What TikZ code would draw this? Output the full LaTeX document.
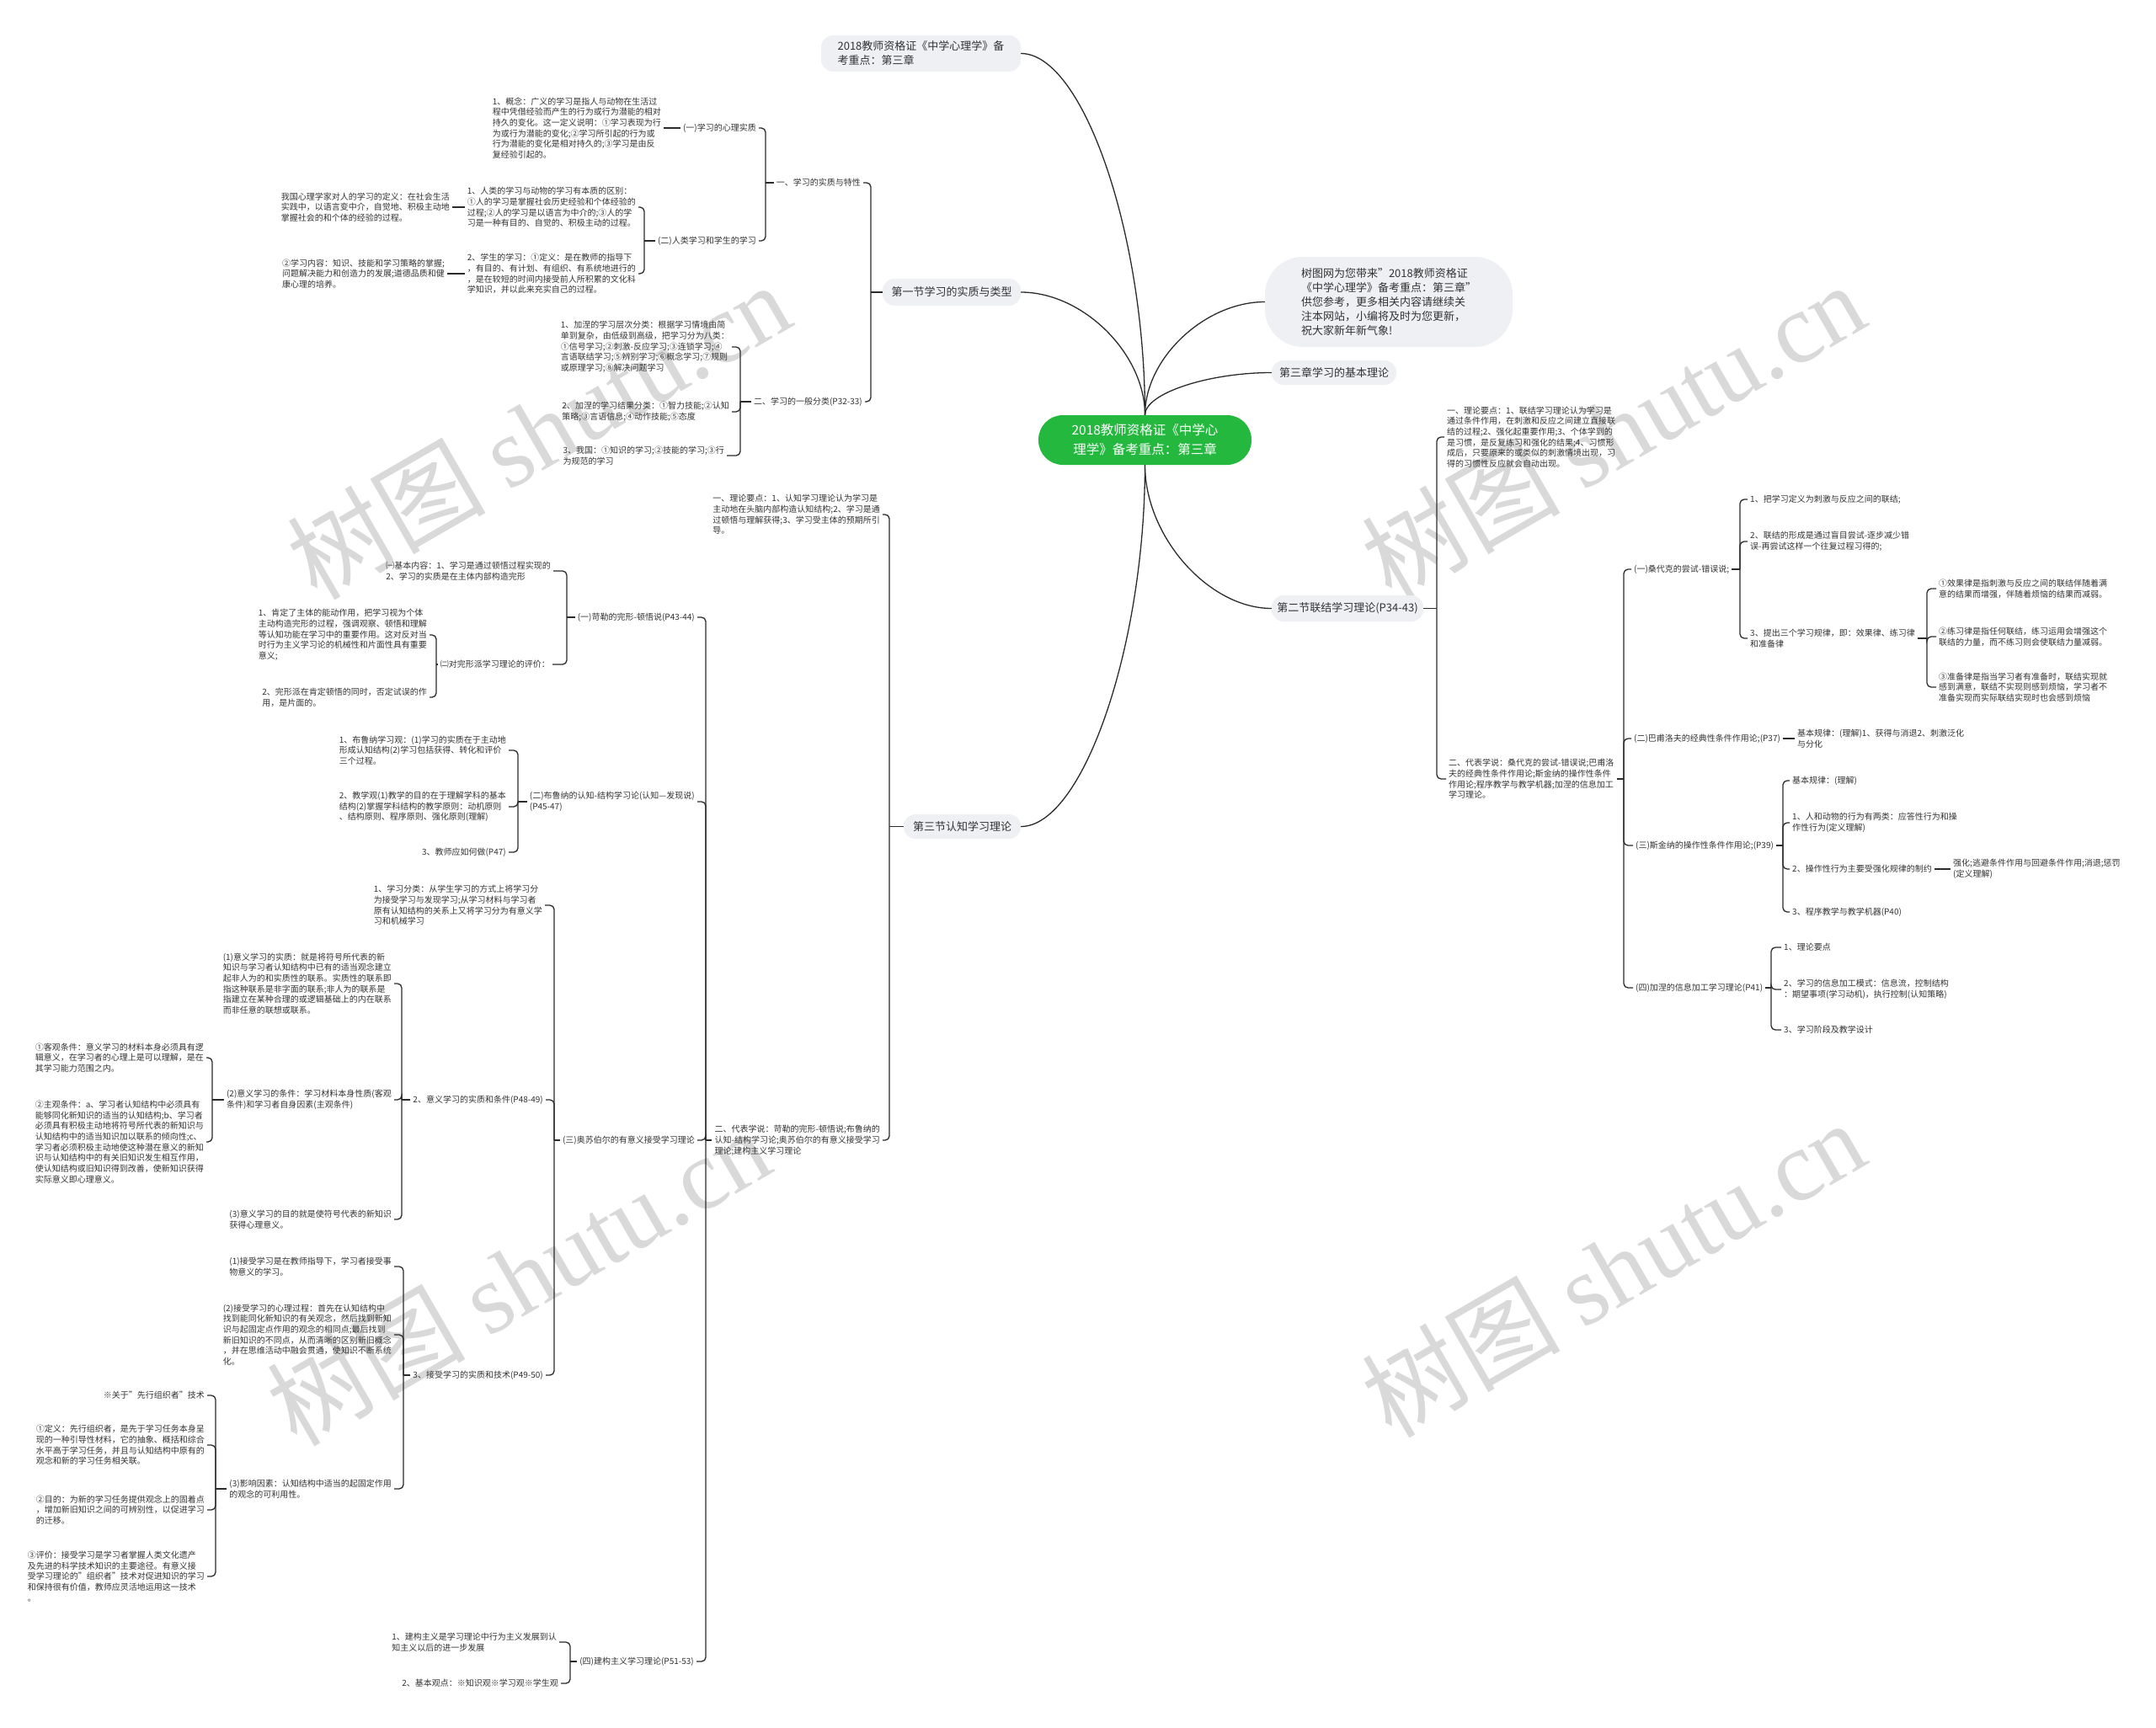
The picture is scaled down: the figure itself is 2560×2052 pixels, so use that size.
\documentclass[tikz,border=0pt]{standalone}
\usepackage{fontspec}
\setmainfont{Noto Sans CJK SC}
\newfontfamily\wmfont{Liberation Serif}
\definecolor{tcol}{HTML}{333333}
\definecolor{lcol}{HTML}{2B2B2B}
\definecolor{pfill}{HTML}{EEF0F4}
\definecolor{cgreen}{HTML}{25B83F}
\definecolor{wmcol}{HTML}{D9D9D9}
\newcommand\fsm{\fontsize{10}{12.7}\selectfont}
\newcommand\flg{\fontsize{13}{17}\selectfont}
\newcommand\fcn{\fontsize{15.5}{23}\selectfont}
\newcommand\fwm{\fontsize{118}{124}\selectfont}
\begin{document}
\begin{tikzpicture}[x=1pt,y=-1pt,
  tx/.style={inner xsep=3pt, inner ysep=1pt, align=left, font=\fsm, text=tcol},
  br/.style={draw=lcol, line width=1.3pt, rounded corners=5pt},
  mc/.style={draw=lcol, line width=1.3pt},
  pill/.style={fill=pfill, rounded corners=14pt, text=tcol, font=\flg, inner sep=0pt, align=left},
  wm/.style={text=wmcol, font=\fwm, rotate=30, inner sep=0pt, anchor=base west}]
\useasboundingbox (0,0) rectangle (2560,2052);
\fill[white] (0,0) rectangle (2560,2052);
% watermarks
\node[wm] (w1a) at (376,714.5) {树};
\node[wm] (w1b) at (478,655.5) {图};
\node[wm] (w1c) at (603,583.5) {\wmfont shutu.cn};
\node[wm] (w2a) at (352,1719.5) {树};
\node[wm] (w2b) at (454,1660.5) {图};
\node[wm] (w2c) at (579,1588.5) {\wmfont shutu.cn};
\node[wm] (w3a) at (1652,714.5) {树};
\node[wm] (w3b) at (1754,655.5) {图};
\node[wm] (w3c) at (1879,583.5) {\wmfont shutu.cn};
\node[wm] (w4a) at (1652,1709.5) {树};
\node[wm] (w4b) at (1754,1650.5) {图};
\node[wm] (w4c) at (1879,1578.5) {\wmfont shutu.cn};

% centre and level-1
\node[fill=cgreen, rounded corners=29pt, minimum width=253pt, minimum height=59pt, text=white, font=\fcn, align=center, inner sep=0pt] (C) at (1359.5,522.5) {2018教师资格证《中学心\\理学》备考重点：第三章};
\node[pill, minimum width=237pt, minimum height=43pt] (T1) at (1093.5,63.5) {2018教师资格证《中学心理学》备\\考重点：第三章};
\node[pill, minimum width=164pt, minimum height=32pt] (L1) at (1130,347) {第一节学习的实质与类型};
\node[pill, rounded corners=45pt, minimum width=294pt, minimum height=107pt] (AD) at (1649,358.5) {树图网为您带来"2018教师资格证\\《中学心理学》备考重点：第三章"\\供您参考，更多相关内容请继续关\\注本网站，小编将及时为您更新，\\祝大家新年新气象!};
\node[pill, minimum width=148pt, minimum height=29pt] (L3) at (1584,442.5) {第三章学习的基本理论};
\node[pill, minimum width=180pt, minimum height=31pt] (L2) at (1600,722.5) {第二节联结学习理论(P34-43)};
\node[pill, minimum width=139pt, minimum height=29pt] (L4) at (1142.5,981.5) {第三节认知学习理论};

\draw[mc] (C.north) .. controls (1359.5,278) and (1286,63.5) .. (T1.east);
\draw[mc] (C.north) .. controls (1359.5,420) and (1286,347) .. (L1.east);
\draw[mc] (C.north) .. controls (1359.5,425) and (1431,358.5) .. (AD.west);
\draw[mc] (C.north) .. controls (1359.5,467) and (1435,442.5) .. (L3.west);
\draw[mc] (C.south) .. controls (1359.5,637) and (1435,722.5) .. (L2.west);
\draw[mc] (C.south) .. controls (1359.5,766) and (1286,981.5) .. (L4.east);

% ---------- section 1 (top left)
\node[tx, anchor=east] (A) at (1025,217) {一、学习的实质与特性};
\node[tx, anchor=east] (B) at (1027,477) {二、学习的一般分类(P32-33)};
\node[tx, anchor=east] (A1) at (901,152) {(一)学习的心理实质};
\node[tx, anchor=east] (A2) at (901,286) {(二)人类学习和学生的学习};
\node[tx, anchor=east] (con) at (788,152) {1、概念：广义的学习是指人与动物在生活过\\程中凭借经验而产生的行为或行为潜能的相对\\持久的变化。这一定义说明：①学习表现为行\\为或行为潜能的变化;②学习所引起的行为或\\行为潜能的变化是相对持久的;③学习是由反\\复经验引起的。};
\node[tx, anchor=east] (hum) at (758,246) {1、人类的学习与动物的学习有本质的区别：\\①人的学习是掌握社会历史经验和个体经验的\\过程;②人的学习是以语言为中介的;③人的学\\习是一种有目的、自觉的、积极主动的过程。};
\node[tx, anchor=east] (stu) at (758,325) {2、学生的学习：①定义：是在教师的指导下\\，有目的、有计划、有组织、有系统地进行的\\，是在较短的时间内接受前人所积累的文化科\\学知识，并以此来充实自己的过程。};
\node[tx, anchor=east] (chn) at (537,246) {我国心理学家对人的学习的定义：在社会生活\\实践中，以语言变中介，自觉地、积极主动地\\掌握社会的和个体的经验的过程。};
\node[tx, anchor=east] (cnt) at (531,325) {②学习内容：知识、技能和学习策略的掌握;\\问题解决能力和创造力的发展;道德品质和健\\康心理的培养。};
\node[tx, anchor=east] (g1) at (869,412) {1、加涅的学习层次分类：根据学习情境由简\\单到复杂，由低级到高级，把学习分为八类：\\①信号学习;②刺激-反应学习;③连锁学习;④\\言语联结学习;⑤辨别学习;⑥概念学习;⑦规则\\或原理学习;⑧解决问题学习};
\node[tx, anchor=east] (g2) at (869,489) {2、加涅的学习结果分类：①智力技能;②认知\\策略;③言语信息;④动作技能;⑤态度};
\node[tx, anchor=east] (g3) at (863,541) {3、我国：①知识的学习;②技能的学习;③行\\为规范的学习};

\draw[br] (L1.west) -- (1034,347) coordinate (jL1);
\draw[br] (jL1) |- (A.east); \draw[br] (jL1) |- (B.east);
\draw[br] (A.west) -- (909,217) coordinate (jA);
\draw[br] (jA) |- (A1.east); \draw[br] (jA) |- (A2.east);
\draw[br] (A1.west) -- (con.east);
\draw[br] (A2.west) -- (765,286) coordinate (jA2);
\draw[br] (jA2) |- (hum.east); \draw[br] (jA2) |- (stu.east);
\draw[br] (hum.west) -- (chn.east);
\draw[br] (stu.west) -- (cnt.east);
\draw[br] (B.west) -- (879,477) coordinate (jB);
\draw[br] (jB) |- (g1.east); \draw[br] (jB) |- (g2.east); \draw[br] (jB) |- (g3.east);

% ---------- section 3 (left)
\node[tx, anchor=east] (cog) at (1048,611) {一、理论要点：1、认知学习理论认为学习是\\主动地在头脑内部构造认知结构;2、学习是通\\过顿悟与理解获得;3、学习受主体的预期所引\\导。};
\node[tx, anchor=east] (rep) at (1048,1354) {二、代表学说：苛勒的完形-顿悟说;布鲁纳的\\认知-结构学习论;奥苏伯尔的有意义接受学习\\理论;建构主义学习理论};
\node[tx, anchor=east] (koh) at (828,733) {(一)苛勒的完形-顿悟说(P43-44)};
\node[tx, anchor=east] (bru) at (828,952) {(二)布鲁纳的认知-结构学习论(认知—发现说)\\(P45-47)};
\node[tx, anchor=east] (aus) at (828,1354) {(三)奥苏伯尔的有意义接受学习理论};
\node[tx, anchor=east] (cst) at (827,1973) {(四)建构主义学习理论(P51-53)};
\node[tx, anchor=east] (bas) at (657,678) {㈠基本内容：1、学习是通过顿悟过程实现的\\2、学习的实质是在主体内部构造完形};
\node[tx, anchor=east] (evl) at (656,789) {㈡对完形派学习理论的评价：};
\node[tx, anchor=east] (e1) at (510,754) {1、肯定了主体的能动作用，把学习视为个体\\主动构造完形的过程，强调观察、顿悟和理解\\等认知功能在学习中的重要作用。这对反对当\\时行为主义学习论的机械性和片面性具有重要\\意义;};
\node[tx, anchor=east] (e2) at (510,828) {2、完形派在肯定顿悟的同时，否定试误的作\\用，是片面的。};
\node[tx, anchor=east] (b1) at (604,891) {1、布鲁纳学习观：(1)学习的实质在于主动地\\形成认知结构(2)学习包括获得、转化和评价\\三个过程。};
\node[tx, anchor=east] (b2) at (604,958) {2、教学观(1)教学的目的在于理解学科的基本\\结构(2)掌握学科结构的教学原则：动机原则\\、结构原则、程序原则、强化原则(理解)};
\node[tx, anchor=east] (b3) at (604,1012) {3、教师应如何做(P47)};
\node[tx, anchor=east] (a1) at (647,1075) {1、学习分类：从学生学习的方式上将学习分\\为接受学习与发现学习;从学习材料与学习者\\原有认知结构的关系上又将学习分为有意义学\\习和机械学习};
\node[tx, anchor=east] (a2) at (648,1306) {2、意义学习的实质和条件(P48-49)};
\node[tx, anchor=east] (a3) at (648,1633) {3、接受学习的实质和技术(P49-50)};
\node[tx, anchor=east] (a21) at (468,1168) {(1)意义学习的实质：就是将符号所代表的新\\知识与学习者认知结构中已有的适当观念建立\\起非人为的和实质性的联系。实质性的联系即\\指这种联系是非字面的联系;非人为的联系是\\指建立在某种合理的或逻辑基础上的内在联系\\而非任意的联想或联系。};
\node[tx, anchor=east] (a22) at (468,1306) {(2)意义学习的条件：学习材料本身性质(客观\\条件)和学习者自身因素(主观条件)};
\node[tx, anchor=east] (a23) at (468,1448) {(3)意义学习的目的就是使符号代表的新知识\\获得心理意义。};
\node[tx, anchor=east] (obj) at (245,1256) {①客观条件：意义学习的材料本身必须具有逻\\辑意义，在学习者的心理上是可以理解，是在\\其学习能力范围之内。};
\node[tx, anchor=east] (sbj) at (245,1356) {②主观条件：a、学习者认知结构中必须具有\\能够同化新知识的适当的认知结构;b、学习者\\必须具有积极主动地将符号所代表的新知识与\\认知结构中的适当知识加以联系的倾向性;c、\\学习者必须积极主动地使这种潜在意义的新知\\识与认知结构中的有关旧知识发生相互作用，\\使认知结构或旧知识得到改善，使新知识获得\\实际意义即心理意义。};
\node[tx, anchor=east] (a31) at (468,1504) {(1)接受学习是在教师指导下，学习者接受事\\物意义的学习。};
\node[tx, anchor=east] (a32) at (468,1585) {(2)接受学习的心理过程：首先在认知结构中\\找到能同化新知识的有关观念，然后找到新知\\识与起固定点作用的观念的相同点;最后找到\\新旧知识的不同点，从而清晰的区别新旧概念\\，并在思维活动中融会贯通，使知识不断系统\\化。};
\node[tx, anchor=east] (a33) at (468,1768) {(3)影响因素：认知结构中适当的起固定作用\\的观念的可利用性。};
\node[tx, anchor=east] (adv) at (246,1657) {※关于"先行组织者"技术};
\node[tx, anchor=east] (adv1) at (246,1716) {①定义：先行组织者，是先于学习任务本身呈\\现的一种引导性材料，它的抽象、概括和综合\\水平高于学习任务，并且与认知结构中原有的\\观念和新的学习任务相关联。};
\node[tx, anchor=east] (adv2) at (246,1793) {②目的：为新的学习任务提供观念上的固着点\\，增加新旧知识之间的可辨别性，以促进学习\\的迁移。};
\node[tx, anchor=east] (adv3) at (246,1872) {③评价：接受学习是学习者掌握人类文化遗产\\及先进的科学技术知识的主要途径。有意义接\\受学习理论的"组织者"技术对促进知识的学习\\和保持很有价值，教师应灵活地运用这一技术\\。};
\node[tx, anchor=east] (c1) at (664,1950) {1、建构主义是学习理论中行为主义发展到认\\知主义以后的进一步发展};
\node[tx, anchor=east] (c2) at (666,1999) {2、基本观点：※知识观※学习观※学生观};

\draw[br] (L4.west) -- (1056,981.5) coordinate (jL4);
\draw[br] (jL4) |- (cog.east); \draw[br] (jL4) |- (rep.east);
\draw[br] (rep.west) -- (838,1354) coordinate (jR);
\draw[br] (jR) |- (koh.east); \draw[br] (jR) |- (bru.east); \draw[br] (jR) |- (aus.east); \draw[br] (jR) |- (cst.east);
\draw[br] (koh.west) -- (673,733) coordinate (jK);
\draw[br] (jK) |- (bas.east); \draw[br] (jK) |- (evl.east);
\draw[br] (evl.west) -- (518,789) coordinate (jE);
\draw[br] (jE) |- (e1.east); \draw[br] (jE) |- (e2.east);
\draw[br] (bru.west) -- (615,952) coordinate (jBr);
\draw[br] (jBr) |- (b1.east); \draw[br] (jBr) |- (b2.east); \draw[br] (jBr) |- (b3.east);
\draw[br] (aus.west) -- (658,1354) coordinate (jAu);
\draw[br] (jAu) |- (a1.east); \draw[br] (jAu) |- (a2.east); \draw[br] (jAu) |- (a3.east);
\draw[br] (a2.west) -- (477,1306) coordinate (jA2b);
\draw[br] (jA2b) |- (a21.east); \draw[br] (jA2b) |- (a22.east); \draw[br] (jA2b) |- (a23.east);
\draw[br] (a22.west) -- (252,1306) coordinate (jA22);
\draw[br] (jA22) |- (obj.east); \draw[br] (jA22) |- (sbj.east);
\draw[br] (a3.west) -- (479,1633) coordinate (jA3);
\draw[br] (jA3) |- (a31.east); \draw[br] (jA3) |- (a32.east); \draw[br] (jA3) |- (a33.east);
\draw[br] (a33.west) -- (256,1768) coordinate (jA33);
\draw[br] (jA33) |- (adv.east); \draw[br] (jA33) |- (adv1.east); \draw[br] (jA33) |- (adv2.east); \draw[br] (jA33) |- (adv3.east);
\draw[br] (cst.west) -- (677,1973) coordinate (jC);
\draw[br] (jC) |- (c1.east); \draw[br] (jC) |- (c2.east);

% ---------- section 2 (right)
\node[tx, anchor=west] (pts) at (1715,519) {一、理论要点：1、联结学习理论认为学习是\\通过条件作用，在刺激和反应之间建立直接联\\结的过程;2、强化起重要作用;3、个体学到的\\是习惯，是反复练习和强化的结果;4、习惯形\\成后，只要原来的或类似的刺激情境出现，习\\得的习惯性反应就会自动出现。};
\node[tx, anchor=west] (rp2) at (1717,925) {二、代表学说：桑代克的尝试-错误说;巴甫洛\\夫的经典性条件作用论;斯金纳的操作性条件\\作用论;程序教学与教学机器;加涅的信息加工\\学习理论。};
\node[tx, anchor=west] (tho) at (1937,676) {(一)桑代克的尝试-错误说;};
\node[tx, anchor=west] (pav) at (1937,877) {(二)巴甫洛夫的经典性条件作用论;(P37)};
\node[tx, anchor=west] (ski) at (1939,1004) {(三)斯金纳的操作性条件作用论;(P39)};
\node[tx, anchor=west] (gin) at (1939,1173) {(四)加涅的信息加工学习理论(P41)};
\node[tx, anchor=west] (t1) at (2075,593) {1、把学习定义为刺激与反应之间的联结;};
\node[tx, anchor=west] (t2) at (2075,643) {2、联结的形成是通过盲目尝试-逐步减少错\\误-再尝试这样一个往复过程习得的;};
\node[tx, anchor=west] (t3) at (2075,758) {3、提出三个学习规律，即：效果律、练习律\\和准备律};
\node[tx, anchor=west] (lw1) at (2299,699) {①效果律是指刺激与反应之间的联结伴随着满\\意的结果而增强，伴随着烦恼的结果而减弱。};
\node[tx, anchor=west] (lw2) at (2299,756) {②练习律是指任何联结，练习运用会增强这个\\联结的力量，而不练习则会使联结力量减弱。};
\node[tx, anchor=west] (lw3) at (2299,816) {③准备律是指当学习者有准备时，联结实现就\\感到满意，联结不实现则感到烦恼，学习者不\\准备实现而实际联结实现时也会感到烦恼};
\node[tx, anchor=west] (pv1) at (2131,877) {基本规律：(理解)1、获得与消退2、刺激泛化\\与分化};
\node[tx, anchor=west] (s0) at (2125,927) {基本规律：(理解)};
\node[tx, anchor=west] (s1) at (2125,977) {1、人和动物的行为有两类：应答性行为和操\\作性行为(定义理解)};
\node[tx, anchor=west] (s2) at (2125,1032) {2、操作性行为主要受强化规律的制约};
\node[tx, anchor=west] (s2a) at (2316,1032) {强化;逃避条件作用与回避条件作用;消退;惩罚\\(定义理解)};
\node[tx, anchor=west] (s3) at (2125,1083) {3、程序教学与教学机器(P40)};
\node[tx, anchor=west] (gi1) at (2115,1125) {1、理论要点};
\node[tx, anchor=west] (gi2) at (2115,1175) {2、学习的信息加工模式：信息流，控制结构\\：期望事项(学习动机)，执行控制(认知策略)};
\node[tx, anchor=west] (gi3) at (2115,1223) {3、学习阶段及教学设计};

\draw[br] (L2.east) -- (1706,722.5) coordinate (jL2);
\draw[br] (jL2) |- (pts.west); \draw[br] (jL2) |- (rp2.west);
\draw[br] (rp2.east) -- (1928,925) coordinate (jRp);
\draw[br] (jRp) |- (tho.west); \draw[br] (jRp) |- (pav.west); \draw[br] (jRp) |- (ski.west); \draw[br] (jRp) |- (gin.west);
\draw[br] (tho.east) -- (2066,676) coordinate (jT);
\draw[br] (jT) |- (t1.west); \draw[br] (jT) |- (t2.west); \draw[br] (jT) |- (t3.west);
\draw[br] (t3.east) -- (2288,758) coordinate (jT3);
\draw[br] (jT3) |- (lw1.west); \draw[br] (jT3) |- (lw2.west); \draw[br] (jT3) |- (lw3.west);
\draw[br] (pav.east) -- (pv1.west);
\draw[br] (ski.east) -- (2117,1004) coordinate (jS);
\draw[br] (jS) |- (s0.west); \draw[br] (jS) |- (s1.west); \draw[br] (jS) |- (s2.west); \draw[br] (jS) |- (s3.west);
\draw[br] (s2.east) -- (s2a.west);
\draw[br] (gin.east) -- (2103,1173) coordinate (jG);
\draw[br] (jG) |- (gi1.west); \draw[br] (jG) |- (gi2.west); \draw[br] (jG) |- (gi3.west);
\end{tikzpicture}
\end{document}
